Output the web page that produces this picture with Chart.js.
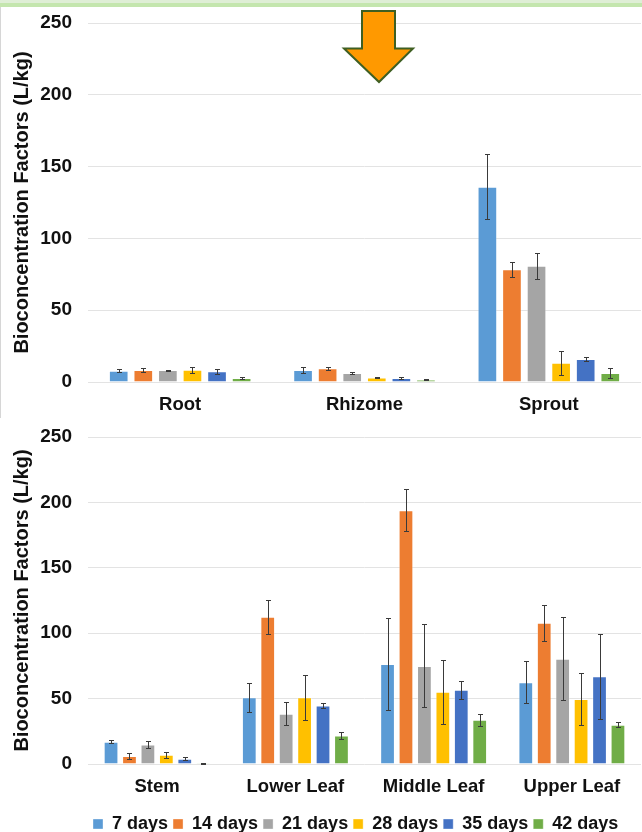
<!DOCTYPE html>
<html>
<head>
<meta charset="utf-8">
<script src="https://cdn.jsdelivr.net/npm/chart.js@4"></script>
<style>
  body { margin: 0; background: #fff; width: 642px; height: 832px; overflow: hidden; position: relative; }
  #band1 { position: absolute; left: 0; top: 0; width: 642px; height: 3px; background: #dfeed6; }
  #band2 { position: absolute; left: 0; top: 3px; width: 642px; height: 4px; background: #c4e6ae; }
  #frame { position: absolute; left: 0; top: 7px; width: 1px; height: 411px; background: #d6d6d6; }
  #top { position: absolute; left: 0; top: 0; }
  #bottom { position: absolute; left: 0; top: 420px; }
  #arrow { position: absolute; left: 0; top: 0; }
</style>
</head>
<body>
<canvas id="top" width="642" height="420"></canvas>
<canvas id="bottom" width="642" height="423"></canvas>
<div id="band1"></div>
<div id="band2"></div>
<div id="frame"></div>
<svg id="arrow" width="642" height="100">
  <polygon points="362,11 395,11 395,48.5 413,48.5 379,82 344,48.5 362,48.5" fill="#ff9900" stroke="#3f5f22" stroke-width="2"/>
</svg>
<script>
document.addEventListener("DOMContentLoaded", () => {
    const seriesLabels = ['7 days', '14 days', '21 days', '28 days', '35 days', '42 days'];
    const colors = ['#5b9bd5', '#ed7d31', '#a5a5a5', '#ffc000', '#4472c4', '#70ad47'];
    const yTicks = [0, 50, 100, 150, 200, 250];

    // upper panel: Root, Rhizome, Sprout
    const topCategories = ['Root', 'Rhizome', 'Sprout'];
    const topValues = [
        [7.9, 8.3, 136],   // 7 days
        [8.3, 9.5, 78.5],  // 14 days
        [8.3, 6.2, 81],    // 21 days
        [8.5, 3.2, 13.4],  // 28 days
        [7.4, 2.8, 16],    // 35 days
        [2.8, 1.6, 6.2]    // 42 days
    ];
    const topErrors = [
        [1, 2.1, 22.5],
        [1.5, 1.2, 5.4],
        [0.3, 0.8, 9],
        [2.1, 0.4, 8.3],
        [2, 0.4, 1.2],
        [0.8, 0.3, 3.3]
    ];

    // lower panel: Stem and leaves
    const bottomCategories = ['Stem', 'Lower Leaf', 'Middle Leaf', 'Upper Leaf'];
    const bottomValues = [
        [17, 51, 76.5, 62.5],
        [6.1, 112.5, 194, 108],
        [14.9, 38.5, 75, 80.5],
        [7.1, 51, 55.3, 49.6],
        [4.1, 44.8, 56.8, 67],
        [0.6, 21.8, 33.8, 30]
    ];
    const bottomErrors = [
        [1, 11, 35.5, 16],
        [2, 12.8, 16, 13.8],
        [2.9, 9, 31.7, 31.7],
        [2.3, 17.4, 24.5, 19.7],
        [1.4, 1.8, 6.9, 32.7],
        [0.3, 2.5, 4.6, 1.8]
    ];

    const fontFamily = '"Liberation Sans", Arial, sans-serif';

    // draws the whiskers from each bar's own position and the y scale
    const errorBars = {
        id: 'errorBars',
        afterDatasetsDraw(chart) {
            const ctx = chart.ctx;
            const yScale = chart.scales.y;
            ctx.save();
            ctx.strokeStyle = '#3a3a3a';
            ctx.lineWidth = 1;
            chart.data.datasets.forEach((ds, i) => {
                const meta = chart.getDatasetMeta(i);
                meta.data.forEach((bar, j) => {
                    const v = ds.data[j];
                    const e = ds.errors[j];
                    const y1 = Math.round(yScale.getPixelForValue(v + e)) + 0.5;
                    const y2 = Math.round(yScale.getPixelForValue(Math.max(0, v - e))) + 0.5;
                    const x = Math.round(bar.x) + 0.5;
                    ctx.beginPath();
                    ctx.moveTo(x, y1); ctx.lineTo(x, y2);
                    ctx.moveTo(x - 2.5, y1); ctx.lineTo(x + 2.5, y1);
                    ctx.moveTo(x - 2.5, y2); ctx.lineTo(x + 2.5, y2);
                    ctx.stroke();
                });
            });
            ctx.restore();
        }
    };

    function makeDatasets(values, errors) {
        return seriesLabels.map((label, i) => ({
            label: label,
            data: values[i],
            errors: errors[i],
            backgroundColor: colors[i],
            borderColor: 'rgba(255,255,255,0.35)',
            borderWidth: 1,
            categoryPercentage: 0.8,
            barPercentage: 0.8
        }));
    }

    function makeOptions(showLegend, xHeight) {
        return {
            responsive: false,
            animation: false,
            layout: { padding: { left: 0, right: 1, top: showLegend ? 17 : 23, bottom: 0 } },
            plugins: {
                legend: {
                    display: showLegend,
                    position: 'bottom',
                    fullSize: false,
                    align: 'start',
                    labels: {
                        boxWidth: 10,
                        boxHeight: 10,
                        padding: 5,
                        color: '#111',
                        font: { family: fontFamily, size: 18, weight: 'bold' }
                    }
                },
                tooltip: { enabled: false }
            },
            scales: {
                x: {
                    grid: { display: false, drawTicks: false },
                    border: { display: false },
                    ticks: {
                        color: '#111',
                        padding: 12,
                        font: { family: fontFamily, size: 18.5, weight: 'bold' }
                    },
                    afterFit: (s) => { s.height = xHeight; }
                },
                y: {
                    min: 0,
                    max: 250,
                    afterBuildTicks: (s) => { s.ticks = yTicks.map(v => ({ value: v })); },
                    // invisible tick marks keep the labels away from the plot
                    grid: { color: '#e3e3e3', drawTicks: true, tickLength: 14, tickColor: 'rgba(0,0,0,0)' },
                    border: { display: false },
                    ticks: {
                        color: '#111',
                        padding: 2,
                        font: { family: fontFamily, size: 19, weight: 'bold' }
                    },
                    title: {
                        display: true,
                        text: 'Bioconcentration Factors (L/kg)',
                        color: '#111',
                        padding: { top: 10, bottom: 0 },
                        font: { family: fontFamily, size: 20, weight: 'bold' }
                    },
                    afterFit: (s) => { s.width = 88; }
                }
            }
        };
    }

    new Chart(document.getElementById('top').getContext('2d'), {
        type: 'bar',
        data: { labels: topCategories, datasets: makeDatasets(topValues, topErrors) },
        options: makeOptions(false, 38),
        plugins: [errorBars]
    });

    new Chart(document.getElementById('bottom').getContext('2d'), {
        type: 'bar',
        data: { labels: bottomCategories, datasets: makeDatasets(bottomValues, bottomErrors) },
        options: makeOptions(true, 46),
        plugins: [errorBars]
    });
});
</script>
</body>
</html>
